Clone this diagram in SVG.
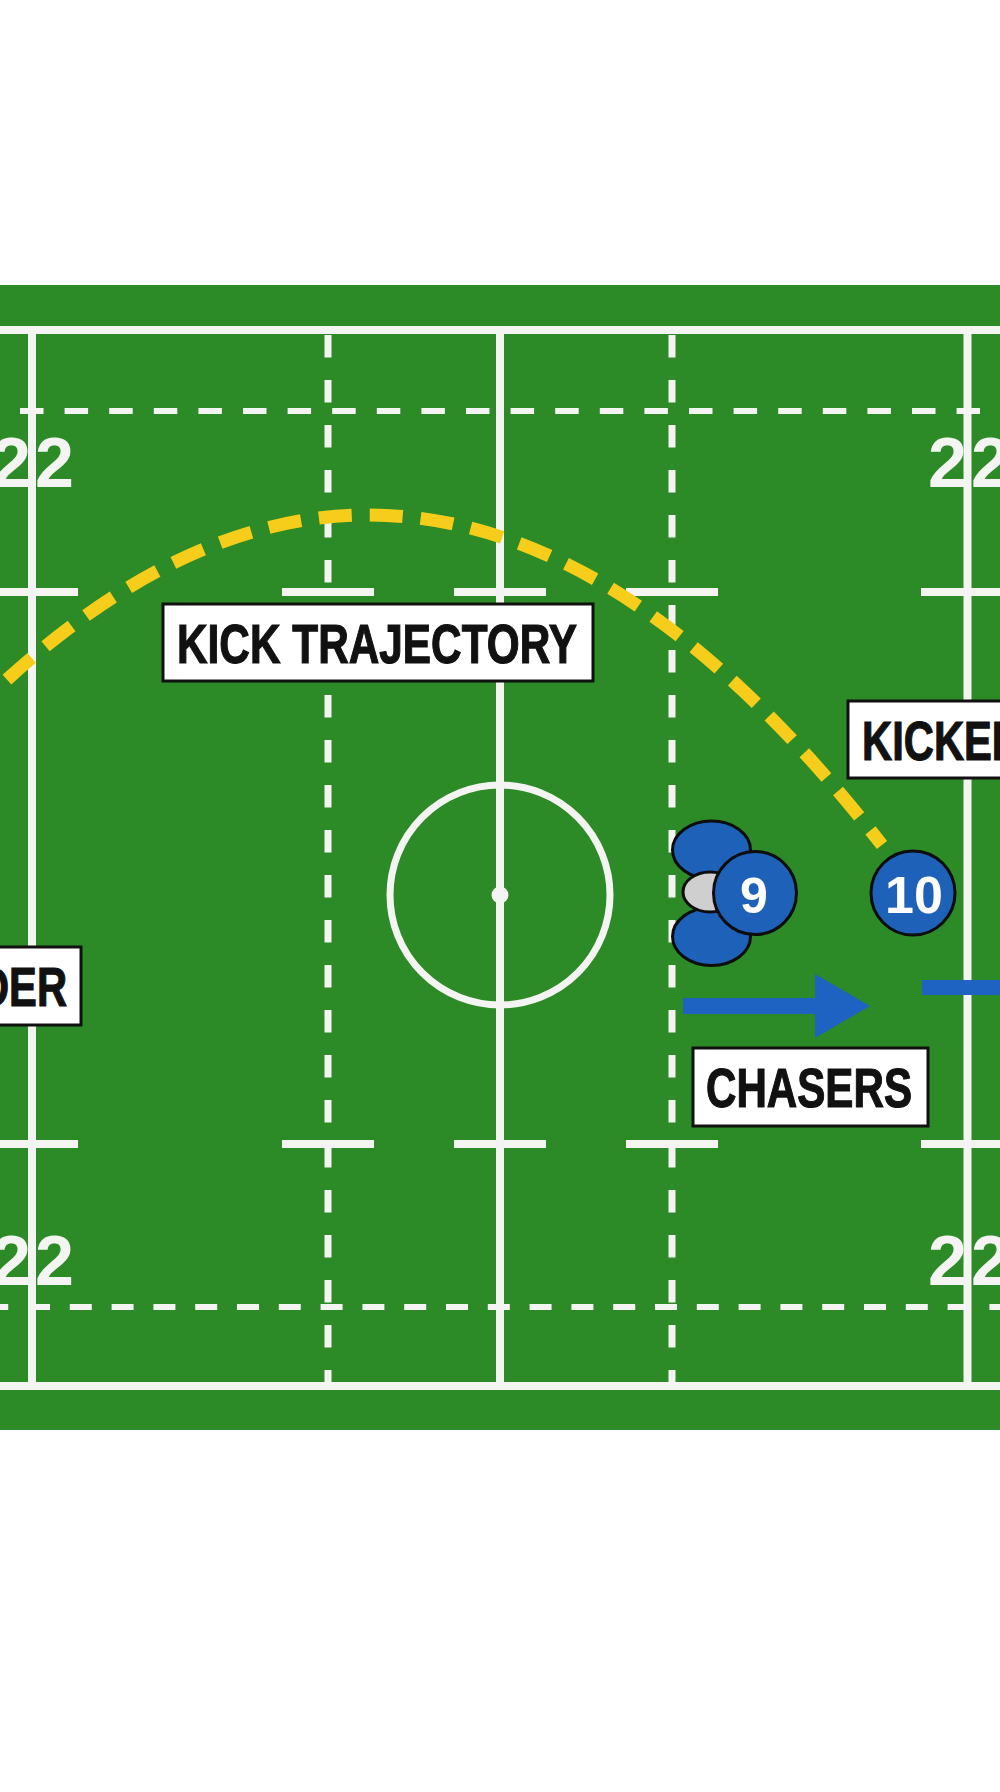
<svg xmlns="http://www.w3.org/2000/svg" width="1000" height="1792" viewBox="0 0 1000 1792">
<defs>
<style>
.ln{stroke:#f4f4f2;stroke-width:8;fill:none}
.dh{stroke:#f4f4f2;stroke-width:6;fill:none}
.dv{stroke:#f4f4f2;stroke-width:7;fill:none;stroke-dasharray:22.5 22.5}
.num{font-family:"Liberation Sans",Arial,sans-serif;font-weight:bold;font-size:70px;fill:#f4f4f2;letter-spacing:4px}
.box{fill:#fff;stroke:#111;stroke-width:3}
.lbl{font-family:"Liberation Sans",Arial,sans-serif;font-weight:bold;font-size:55px;fill:#111;stroke:#111;stroke-width:1.2}
.pl{fill:#1e61b8;stroke:#0d0d0d;stroke-width:3}
.pn{font-family:"Liberation Sans",Arial,sans-serif;font-weight:bold;fill:#fff;text-anchor:middle}
.arr{fill:#1f63c2}
</style>
</defs>
<rect width="1000" height="1792" fill="#ffffff"/>
<g id="pitch">
<rect x="0" y="285" width="1000" height="1145" fill="#2c8a27"/>
<line class="ln" x1="0" y1="330" x2="1000" y2="330"/>
<line class="ln" x1="0" y1="1386" x2="1000" y2="1386"/>
<line class="ln" x1="32" y1="326" x2="32" y2="1390"/>
<line class="ln" x1="500" y1="326" x2="500" y2="1390"/>
<line class="ln" x1="967.5" y1="326" x2="967.5" y2="1390"/>
<line class="dh" x1="20" y1="411" x2="980" y2="411" stroke-dasharray="23.5 21.1"/>
<line class="dh" x1="-13.8" y1="1307" x2="1000" y2="1307" stroke-dasharray="22 19.8"/>
<line class="dv" x1="328" y1="335" x2="328" y2="1386"/>
<line class="dv" x1="672" y1="335" x2="672" y2="1386"/>
<g class="ln">
<line x1="-14" y1="592" x2="78" y2="592"/>
<line x1="282" y1="592" x2="374" y2="592"/>
<line x1="454" y1="592" x2="546" y2="592"/>
<line x1="626" y1="592" x2="718" y2="592"/>
<line x1="921" y1="592" x2="1013" y2="592"/>
<line x1="-14" y1="1144" x2="78" y2="1144"/>
<line x1="282" y1="1144" x2="374" y2="1144"/>
<line x1="454" y1="1144" x2="546" y2="1144"/>
<line x1="626" y1="1144" x2="718" y2="1144"/>
<line x1="921" y1="1144" x2="1013" y2="1144"/>
</g>
<circle cx="500" cy="895" r="110" fill="none" stroke="#f4f4f2" stroke-width="7"/>
<circle cx="500" cy="895" r="8.5" fill="#f4f4f2"/>
<text class="num" x="-8" y="487">22</text>
<text class="num" x="928" y="487">22</text>
<text class="num" x="-8" y="1285">22</text>
<text class="num" x="928" y="1285">22</text>
</g>
<g id="connectors">
<path id="kick-trajectory" d="M -30,715 Q 425,258 882,845" fill="none" stroke="#f5cd1a" stroke-width="13" stroke-dasharray="33 18"/>
<path id="chase-arrow-1" class="arr" d="M 683,998 L 815,998 L 815,974 L 870,1006 L 815,1038 L 815,1014 L 683,1014 Z"/>
<rect id="chase-arrow-2" class="arr" x="922" y="980" width="90" height="15"/>
</g>
<g id="label-kick-trajectory">
<rect class="box" x="163" y="604" width="430" height="77"/>
<text class="lbl" x="177" y="663" textLength="400" lengthAdjust="spacingAndGlyphs">KICK TRAJECTORY</text>
</g>
<g id="label-kicker">
<rect class="box" x="848" y="701" width="220" height="77"/>
<text class="lbl" x="862" y="760" textLength="160" lengthAdjust="spacingAndGlyphs">KICKER</text>
</g>
<g id="label-der">
<rect class="box" x="-60" y="947" width="141" height="78"/>
<text class="lbl" x="-21" y="1006" textLength="88" lengthAdjust="spacingAndGlyphs">DER</text>
</g>
<g id="label-chasers">
<rect class="box" x="693" y="1048" width="235" height="78"/>
<text class="lbl" x="706" y="1107" textLength="206" lengthAdjust="spacingAndGlyphs">CHASERS</text>
</g>
<g id="player-9">
<ellipse class="pl" cx="711.5" cy="850" rx="39" ry="29"/>
<ellipse class="pl" cx="711.5" cy="936.5" rx="39" ry="29"/>
<ellipse cx="710" cy="892" rx="27" ry="20" fill="#cfcfcf" stroke="#0d0d0d" stroke-width="3"/>
<circle class="pl" cx="755" cy="893" r="41.5"/>
<text class="pn" x="754" y="913" font-size="50">9</text>
</g>
<g id="player-10">
<circle class="pl" cx="913" cy="893" r="42"/>
<text class="pn" x="914" y="913" font-size="52">10</text>
</g>
</svg>
